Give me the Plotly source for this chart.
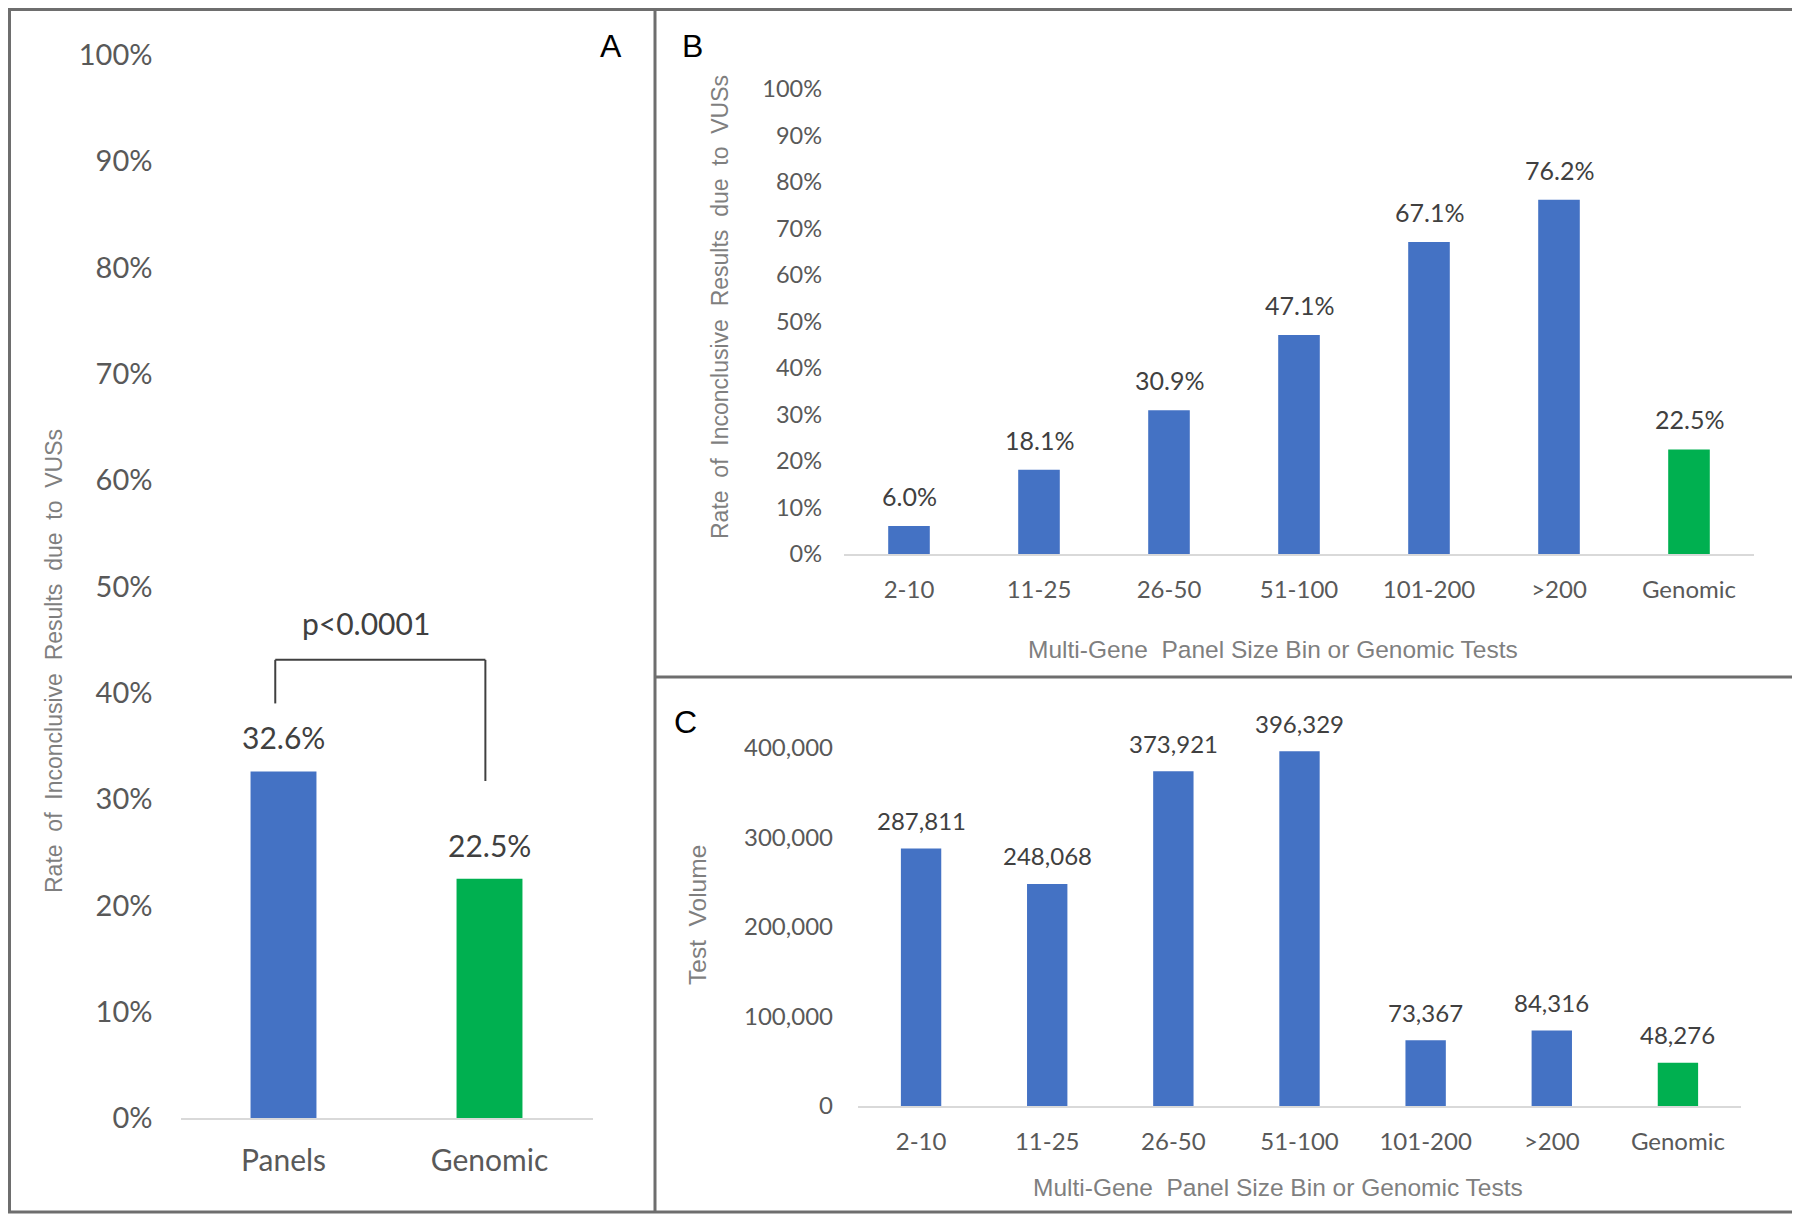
import plotly.graph_objects as go

# ---------------- data ----------------
a_categories = ["Panels", "Genomic"]
a_rates = [32.6, 22.5]

b_categories = ["2-10", "11-25", "26-50", "51-100", "101-200", ">200", "Genomic"]
b_rates = [6.0, 18.1, 30.9, 47.1, 67.1, 76.2, 22.5]

c_categories = ["2-10", "11-25", "26-50", "51-100", "101-200", ">200", "Genomic"]
c_volumes = [287811, 248068, 373921, 396329, 73367, 84316, 48276]

pct_ticks = [0, 10, 20, 30, 40, 50, 60, 70, 80, 90, 100]
pct_tick_labels = [f"{t}%" for t in pct_ticks]
vol_ticks = [0, 100000, 200000, 300000, 400000]
vol_tick_labels = [f"{t:,}" for t in vol_ticks]

p_value_text = "p<0.0001"
y_title_rate = "Rate  of  Inconclusive  Results  due  to  VUSs"
y_title_vol = "Test  Volume"
x_title = "Multi-Gene  Panel Size Bin or Genomic Tests"

# ---------------- style ----------------
# The page body has an 8px default margin; the figure is sized and laid out so that
# it fills the 1800x1215 window from that offset.
OFF = 8
W, H = 1800 - OFF, 1215 - OFF
BLUE = "#4472C4"
GREEN = "#00B050"
TICK_C = "#595959"
LABEL_C = "#404040"
TITLE_C = "#7F7F7F"
BASE_C = "#D9D9D9"
BORDER_C = "#6E6E6E"
NUM_FONT = "Lato"
TITLE_FONT = "Liberation Sans"


def colors(cats):
    return [GREEN if c == "Genomic" else BLUE for c in cats]


def px(x):
    return (x - OFF) / W


def py(y):
    return 1 - (y - OFF) / H


fig = go.Figure()

fig.add_trace(go.Bar(x=a_categories, y=a_rates, marker_color=colors(a_categories),
                     marker_line_width=0, width=0.32, xaxis="x", yaxis="y",
                     hoverinfo="skip"))
fig.add_trace(go.Bar(x=b_categories, y=b_rates, marker_color=colors(b_categories),
                     marker_line_width=0, width=0.32, xaxis="x2", yaxis="y2",
                     hoverinfo="skip"))
fig.add_trace(go.Bar(x=c_categories, y=c_volumes, marker_color=colors(c_categories),
                     marker_line_width=0, width=0.32, xaxis="x3", yaxis="y3",
                     hoverinfo="skip"))

annotations = []
# data labels
for c, v in zip(a_categories, a_rates):
    annotations.append(dict(x=c, y=v, xref="x", yref="y", text=f"{v:.1f}%",
                            showarrow=False, xanchor="center", yanchor="middle", yshift=34,
                            font=dict(family=NUM_FONT, size=30, color=LABEL_C)))
for c, v in zip(b_categories, b_rates):
    annotations.append(dict(x=c, y=v, xref="x2", yref="y2", text=f"{v:.1f}%",
                            showarrow=False, xanchor="center", yanchor="middle", yshift=30,
                            font=dict(family=NUM_FONT, size=25, color=LABEL_C)))
for c, v in zip(c_categories, c_volumes):
    annotations.append(dict(x=c, y=v, xref="x3", yref="y3", text=f"{v:,}",
                            showarrow=False, xanchor="center", yanchor="middle", yshift=28,
                            font=dict(family=NUM_FONT, size=24, color=LABEL_C)))

# p-value
annotations.append(dict(x=0.40, y=46.6, xref="x", yref="y", text=p_value_text,
                        showarrow=False, xanchor="center", yanchor="middle",
                        font=dict(family=NUM_FONT, size=30, color=LABEL_C)))


def paper_text(x, y, text, size, angle=0, color=TITLE_C, family=TITLE_FONT):
    return dict(x=px(x), y=py(y), xref="paper", yref="paper", text=text, textangle=angle,
                showarrow=False, xanchor="center", yanchor="middle",
                font=dict(family=family, size=size, color=color))


# axis titles
annotations += [
    paper_text(54, 661, y_title_rate, 23, -90),
    paper_text(720, 307, y_title_rate, 23, -90),
    paper_text(697, 915, y_title_vol, 24.5, -90),
    paper_text(1273, 649, x_title, 24.5),
    paper_text(1278, 1187, x_title, 24.5),
]

# panel letters
for letter, (lx, ly) in {"A": (611, 46), "B": (692, 46), "C": (685, 722)}.items():
    annotations.append(paper_text(lx, ly, letter, 32, color="#000000"))

shapes = []
# significance bracket (axis A coordinates)
br_left, br_right, br_top, br_lbot, br_rbot = -0.04, 0.98, 43.1, 39.0, 31.7
for x0, y0, x1, y1 in [(br_left, br_lbot, br_left, br_top),
                       (br_left, br_top, br_right, br_top),
                       (br_right, br_top, br_right, br_rbot)]:
    shapes.append(dict(type="line", xref="x", yref="y", x0=x0, y0=y0, x1=x1, y1=y1,
                       line=dict(color=LABEL_C, width=2)))

# panel borders
bw = 3
shapes += [
    dict(type="rect", xref="paper", yref="paper", x0=1.5 / W, y0=py(1212), x1=px(1797), y1=1 - 1.5 / H,
         line=dict(color=BORDER_C, width=bw)),
    dict(type="line", xref="paper", yref="paper", x0=px(655), x1=px(655), y0=py(1212), y1=1 - 1.5 / H,
         line=dict(color=BORDER_C, width=bw)),
    dict(type="line", xref="paper", yref="paper", x0=px(655), x1=px(1797), y0=py(677), y1=py(677),
         line=dict(color=BORDER_C, width=bw)),
]

common_x = dict(type="category", showgrid=False, zeroline=False, showline=True,
                linecolor=BASE_C, linewidth=2, ticks="", fixedrange=True, automargin=False)
common_y = dict(showgrid=False, zeroline=False, showline=False, ticks="", fixedrange=True,
                automargin=False, tickmode="array")

fig.update_layout(
    template="none",
    width=W, height=H, margin=dict(l=0, r=0, t=0, b=0, pad=0), autosize=False,
    paper_bgcolor="white", plot_bgcolor="white", showlegend=False,
    xaxis=dict(**common_x, domain=[px(180.5), px(592.5)], anchor="y",
               tickfont=dict(family=NUM_FONT, size=30, color=TICK_C), ticklabelstandoff=15),
    yaxis=dict(**common_y, domain=[py(1118), py(55)], anchor="x", range=[0, 100],
               tickvals=pct_ticks, ticktext=pct_tick_labels,
               tickfont=dict(family=NUM_FONT, size=29, color=TICK_C), ticklabelstandoff=27),
    xaxis2=dict(**common_x, domain=[px(844), px(1754)], anchor="y2",
                tickfont=dict(family=NUM_FONT, size=24, color=TICK_C), ticklabelstandoff=13),
    yaxis2=dict(**common_y, domain=[py(554), py(89)], anchor="x2", range=[0, 100],
                tickvals=pct_ticks, ticktext=pct_tick_labels,
                tickfont=dict(family=NUM_FONT, size=23.5, color=TICK_C), ticklabelstandoff=21),
    xaxis3=dict(**common_x, domain=[px(858), px(1741)], anchor="y3",
                tickfont=dict(family=NUM_FONT, size=24, color=TICK_C), ticklabelstandoff=13),
    yaxis3=dict(**common_y, domain=[py(1106), py(748)], anchor="x3", range=[0, 400000],
                tickvals=vol_ticks, ticktext=vol_tick_labels,
                tickfont=dict(family=NUM_FONT, size=24, color=TICK_C), ticklabelstandoff=24),
    annotations=annotations,
    shapes=shapes,
)

fig.write_html("out.html")
